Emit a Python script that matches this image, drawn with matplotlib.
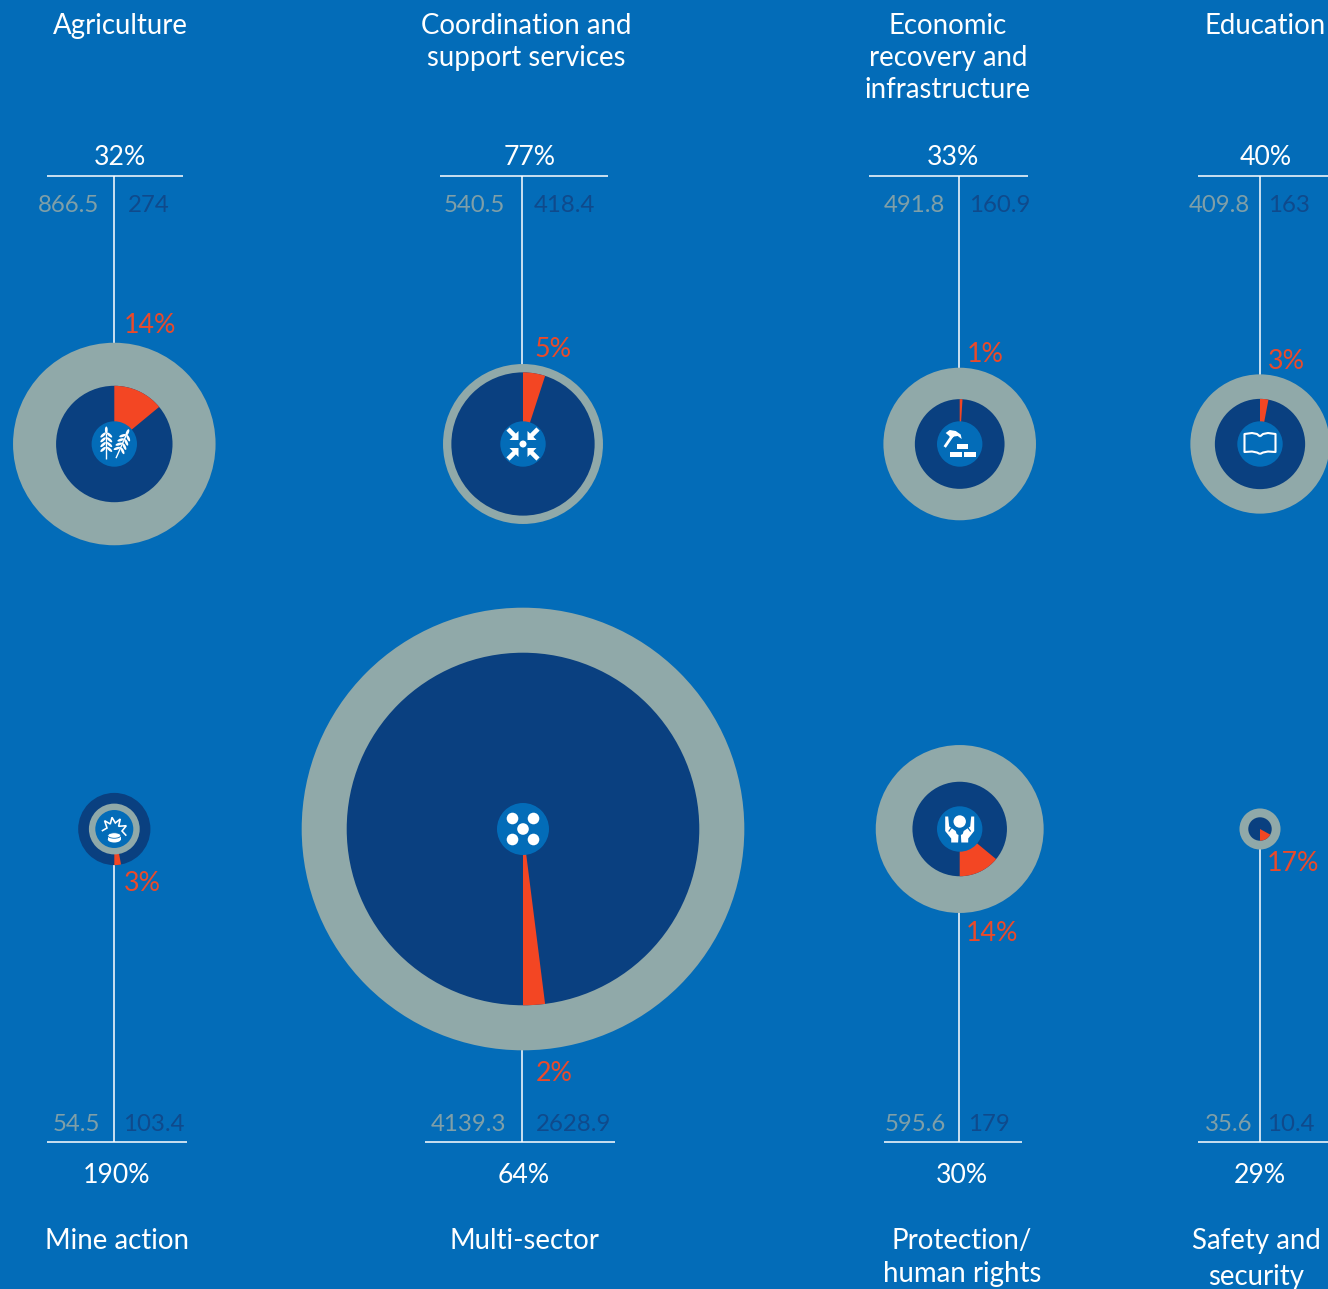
import numpy as np
import matplotlib
matplotlib.use("Agg")
import matplotlib.pyplot as plt
from matplotlib.patches import Circle, Wedge, Polygon, Ellipse

# ---------- data ----------
sectors = ["Agriculture", "Coordination and\nsupport services", "Economic\nrecovery and\ninfrastructure", "Education",
           "Mine action", "Multi-sector", "Protection/\nhuman rights", "Safety and\nsecurity"]
requirements = [866.5, 540.5, 491.8, 409.8, 54.5, 4139.3, 595.6, 35.6]
req_labels = ["866.5", "540.5", "491.8", "409.8", "54.5", "4139.3", "595.6", "35.6"]
funding = [274, 418.4, 160.9, 163, 103.4, 2628.9, 179, 10.4]
fund_labels = ["274", "418.4", "160.9", "163", "103.4", "2628.9", "179", "10.4"]
coverage = [32, 77, 33, 40, 190, 64, 30, 29]
red_share = [14, 5, 1, 3, 3, 2, 14, 17]
icons = ["wheat", "arrows", "build", "book", "mine", "dots", "hands", None]

# ---------- layout (pixels) ----------
W, H = 1328, 1289
BG, GRAY, DARK, RED, WHITE = "#036cb8", "#90a9a9", "#0a4080", "#f34623", "#ffffff"
GRAY_TXT, DARK_TXT, RED_TXT = "#7f9fa8", "#0f4a8c", "#ea4a2a"
cx = [114.3, 523, 959.7, 1260] * 2
cy = [444] * 4 + [829] * 4
line_x = [114, 522, 959, 1260] * 2
rule = [(47, 183), (440, 608), (869, 1028), (1198, 1330),
        (47, 187), (425, 615), (884, 1022), (1198, 1330)]
title_x = [120, 526, 948, 1265, 117, 524, 962, 1256]
pct_x = [120, 530, 953, 1266, 117, 524, 962, 1260]
left_x = [99, 505, 945, 1250, 100, 506, 946, 1252]
right_x = [128, 534, 969, 1268, 123, 536, 968, 1267]
red_x = [124, 534, 967, 1268, 124, 536, 966, 1267]
red_y = [333, 357, 362, 369, 891, 1081, 941, 871]
FONT = "Lato"
FS_T, FS_P, FS_V, FS_R = 19.9, 19.2, 17.3, 19.3

fig = plt.figure(figsize=(W / 100, H / 100), dpi=100, facecolor=BG)
ax = fig.add_axes([0, 0, 1, 1])
ax.set_xlim(0, W)
ax.set_ylim(H, 0)
ax.axis("off")


def txt(x, y, s, color=WHITE, size=FS_T, ha="center"):
    ax.text(x, y, s, color=color, fontsize=size, ha=ha, va="baseline", family=FONT)


def poly(x, y, pts, z=6, **kw):
    kw.setdefault("fc", WHITE)
    kw.setdefault("ec", "none")
    ax.add_patch(Polygon([(x + a, y + b) for a, b in pts], closed=kw.pop("closed", True), zorder=z, **kw))


def line(x, y, pts, lw=1.5, color=WHITE, z=6):
    ax.plot([x + a for a, b in pts], [y + b for a, b in pts], color=color, lw=lw * 0.72,
            zorder=z, solid_capstyle="butt", solid_joinstyle="miter")


def wheat(x, y, angle, scale=1.0):
    t = np.radians(angle)
    R = np.array([[np.cos(t), -np.sin(t)], [np.sin(t), np.cos(t)]])
    def P(a, b):
        return R @ np.array([a, b]) * scale + np.array([x, y])
    p0, p1 = P(0, -10), P(0, 16)
    ax.plot([p0[0], p1[0]], [p0[1], p1[1]], color=WHITE, lw=1.0, zorder=6, solid_capstyle="butt")
    c = P(0, -13)
    ax.add_patch(Ellipse(c, 2.8, 7, angle=angle, fc=WHITE, ec="none", zorder=6))
    for b in (-8, -3.2, 1.6, 6.4):
        for sgn in (-1, 1):
            c = P(sgn * 3.2, b)
            ax.add_patch(Ellipse(c, 2.6, 7, angle=angle - sgn * 48, fc=WHITE, ec="none", zorder=6))


def draw_icon(kind, x, y):
    if kind == "wheat":
        wheat(x - 8, y - 1, 0)
        wheat(x + 8, y, 24, 0.97)
    elif kind == "arrows":
        ax.add_patch(Circle((x, y), 3.5, fc=WHITE, ec="none", zorder=6))
        for sx in (-1, 1):
            for sy in (-1, 1):
                poly(x, y, [(sx * 4.5, sy * 4), (sx * 4.5, sy * 13), (sx * 13.5, sy * 4)])
                line(x, y, [(sx * 8, sy * 8), (sx * 15, sy * 15)], lw=4.6)
    elif kind == "build":
        for a, b in [(-2.7, -0.3), (-9.3, 7.7), (4.7, 7.7)]:
            poly(x, y, [(a, b), (a + 11.3, b), (a + 11.3, b + 5.6), (a, b + 5.6)])
        line(x, y, [(-15, 3), (-6.5, -9.5)], lw=2.8)
        poly(x, y, [(-14, -11), (-10, -14), (-4, -13), (1, -9.5), (2, -5), (-2, -8), (-5.5, -7.5),
                    (-8.5, -5.5), (-11, -8.5)])
    elif kind == "book":
        for s in (-1, 1):
            pts = [(0, -7.5), (s * 3, -10), (s * 8, -11), (s * 15.5, -10), (s * 15.5, 8), (s * 8, 7.5),
                   (s * 3, 8.5), (0, 10)]
            ax.add_patch(Polygon([(x + a, y + b) for a, b in pts], closed=False, fill=False, ec=WHITE,
                                 lw=1.5, zorder=6, joinstyle="round"))
    elif kind == "dots":
        for a, b in [(-10.5, -10.5), (10.5, -10.5), (0, 0), (-10.5, 10.5), (10.5, 10.5)]:
            ax.add_patch(Circle((x + a, y + b), 5.8, fc=WHITE, ec="none", zorder=6))
    elif kind == "hands":
        ax.add_patch(Circle((x, y - 7.5), 6.2, fc=WHITE, ec="none", zorder=6))
        for s in (-1, 1):
            poly(x, y, [(s * 14.5, -12.5), (s * 11.5, -12.5), (s * 10.5, -2.5), (s * 4, 2), (s * 3, 5),
                        (s * 1.2, 6), (s * 1.6, 13.5), (s * 8.5, 13.5), (s * 8.5, 9.5), (s * 14.5, 2)])
            line(x, y, [(s * 8, -1.5), (s * 11, 2.5)], lw=1.2, color=BG, z=7)
    elif kind == "mine":
        zig = [(-12.5, 2), (-7.3, -1), (-9.7, -8.3), (-4, -5), (-2.3, -11.7), (1, -6), (6, -10),
               (4.3, -2.7), (12, -3.3), (7.7, 2), (12, 6.7)]
        line(x, y, zig, lw=1.6)
        ax.add_patch(Ellipse((x, y + 10.5), 13, 6, fc=WHITE, ec="none", zorder=6))
        poly(x, y, [(-6.5, 6.5), (6.5, 6.5), (6.5, 10.5), (-6.5, 10.5)])
        ax.add_patch(Ellipse((x, y + 6.5), 13, 5.5, fc=WHITE, ec=BG, lw=0.6, zorder=6))


for i, name in enumerate(sectors):
    x, y = cx[i], cy[i]
    top = i < 4
    r_req = 3.44 * requirements[i] ** 0.5
    r_fund = 3.72 * funding[i] ** 0.49
    r_icon = 26 if icons[i] == "dots" else (19 if icons[i] == "mine" else 22.7)

    # rules
    rule_y = 176 if top else 1142
    ax.plot(rule[i], [rule_y, rule_y], color=WHITE, lw=1.1, zorder=1, solid_capstyle="butt")
    ax.plot([line_x[i], line_x[i]], [rule_y, y], color=WHITE, lw=1.1, zorder=1, solid_capstyle="butt")

    # discs: larger one behind
    z_req, z_fund = (2, 3) if r_req >= r_fund else (4, 2)
    ax.add_patch(Circle((x, y), r_req, fc=GRAY, ec="none", zorder=z_req))
    ax.add_patch(Circle((x, y), r_fund, fc=DARK, ec="none", zorder=z_fund))
    sweep = 3.6 * red_share[i]
    if top:
        th1, th2 = -90, -90 + sweep
    else:
        th1, th2 = 90 - sweep, 90
    ax.add_patch(Wedge((x, y), r_fund, th1, th2, fc=RED, ec="none", zorder=z_fund + 0.5))
    if icons[i]:
        ax.add_patch(Circle((x, y), r_icon, fc=BG, ec="none", zorder=5))
        draw_icon(icons[i], x, y)

    # text
    lines = name.split("\n")
    for k, ln in enumerate(lines):
        if top:
            base = 34 + 32 * k
        else:
            base = 1249 + (36 if i == 7 else 33) * k
        txt(title_x[i], base, ln)
    txt(pct_x[i], 165 if top else 1183, f"{coverage[i]}%", size=FS_P)
    vb = 212 if top else 1131
    txt(left_x[i], vb, req_labels[i], color=GRAY_TXT, size=FS_V, ha="right")
    txt(right_x[i], vb, fund_labels[i], color=DARK_TXT, size=FS_V, ha="left")
    txt(red_x[i], red_y[i], f"{red_share[i]}%", color=RED_TXT, size=FS_R, ha="left")

fig.savefig("out.png", dpi=100, facecolor=BG)
